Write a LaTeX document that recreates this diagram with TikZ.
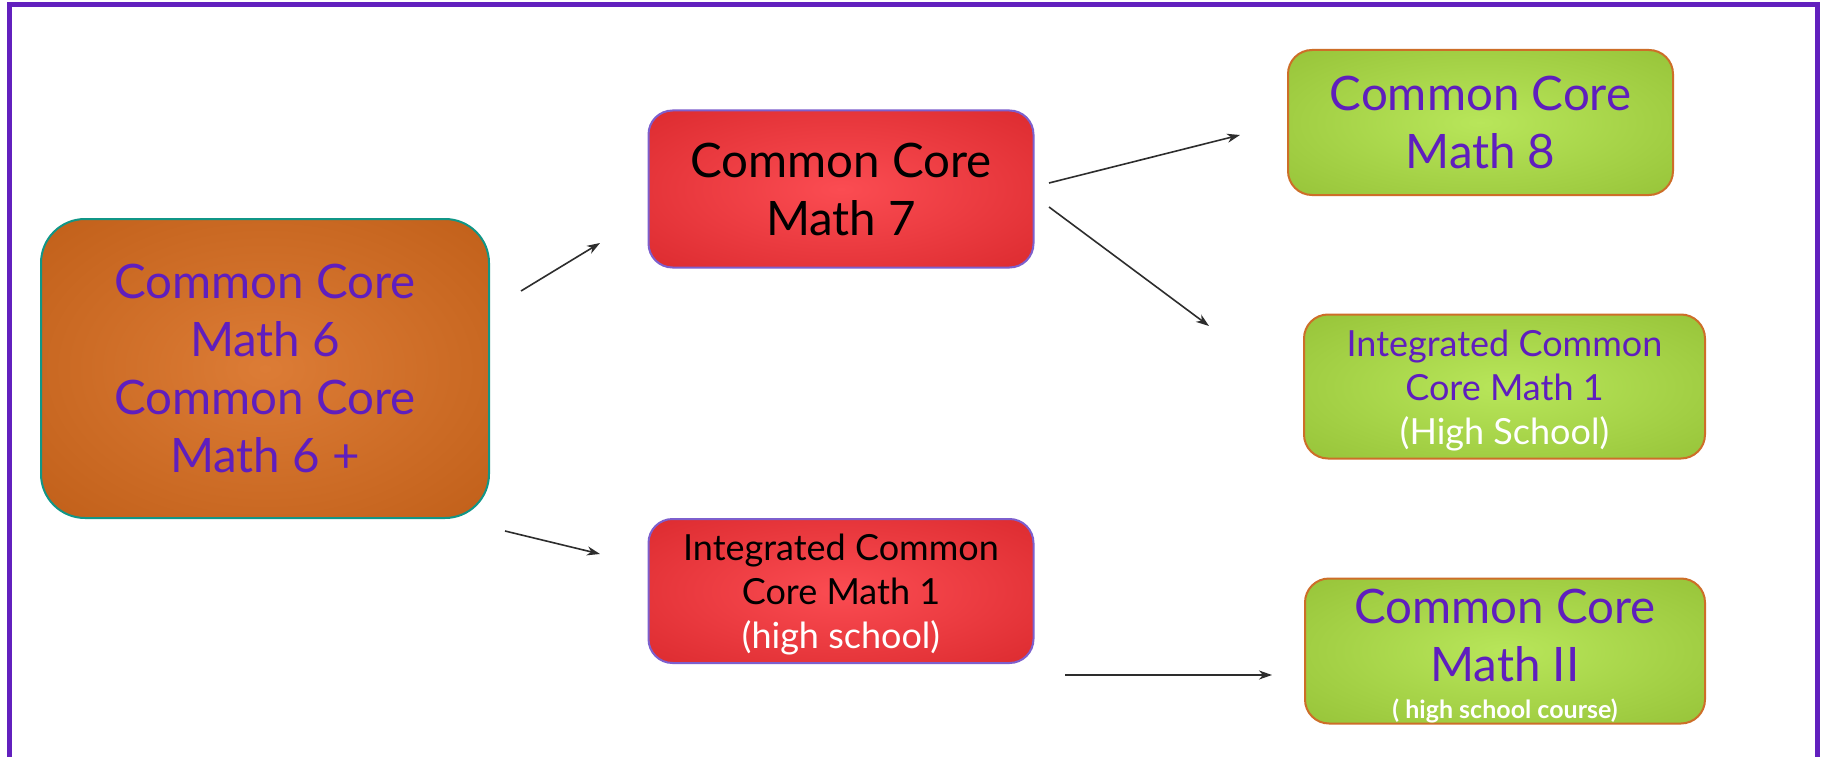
\documentclass[tikz,border=0pt]{standalone}
\usepackage{fontspec}
\setmainfont{Lato}
\usetikzlibrary{arrows.meta}
\definecolor{framec}{RGB}{98,32,190}
\definecolor{ptext}{RGB}{95,30,190}
\definecolor{orIn}{RGB}{220,124,54}
\definecolor{orOut}{RGB}{182,84,14}
\definecolor{orDeep}{RGB}{168,72,4}
\definecolor{rdIn}{RGB}{251,76,82}
\definecolor{rdOut}{RGB}{208,30,34}
\definecolor{rdDeep}{RGB}{196,22,26}
\definecolor{grIn}{RGB}{184,230,90}
\definecolor{grOut}{RGB}{138,182,44}
\definecolor{grDeep}{RGB}{126,170,36}
\definecolor{tealb}{RGB}{16,150,135}
\definecolor{lavb}{RGB}{125,95,205}
\definecolor{orb}{RGB}{205,110,40}
\definecolor{arrowc}{RGB}{45,45,45}
\pgfdeclareradialshading{orShade}{\pgfpoint{0bp}{0bp}}{color(0bp)=(orIn); color(50bp)=(orOut); color(71bp)=(orDeep)}
\pgfdeclareradialshading{rdShade}{\pgfpoint{0bp}{0bp}}{color(0bp)=(rdIn); color(50bp)=(rdOut); color(71bp)=(rdDeep)}
\pgfdeclareradialshading{grShade}{\pgfpoint{0bp}{0bp}}{color(0bp)=(grIn); color(50bp)=(grOut); color(71bp)=(grDeep)}
\tikzset{
  box/.style={rectangle, rounded corners=24pt, line width=2pt, align=center, inner sep=0pt},
  bigtext/.style={font=\fontsize{47.5}{58}\selectfont},
  smalltext/.style={font=\fontsize{36}{44}\selectfont},
  orangebox/.style={box, shading=orShade, draw=tealb},
  redbox/.style={box, shading=rdShade, draw=lavb},
  greenbox/.style={box, shading=grShade, draw=orb},
  conn/.style={-{Stealth[length=13pt,width=9pt,inset=4pt]}, line width=1.6pt, draw=arrowc}
}
\begin{document}
\begin{tikzpicture}[x=1pt,y=-1pt]
\useasboundingbox (0,0) rectangle (1824,757);
\fill[white] (0,0) rectangle (1824,757);
\draw[framec, line width=5pt] (9,5) rectangle (1817,760);

\node[orangebox, rounded corners=44pt, minimum width=448pt, minimum height=299pt, text=ptext, bigtext] (m6) at (265,368.5)
  {Common Core\\Math 6\\Common Core\\Math 6 +};
\node[redbox, minimum width=385pt, minimum height=157pt, text=black, bigtext] (m7) at (841,189)
  {Common Core\\Math 7};
\node[redbox, minimum width=385pt, minimum height=144pt, text=black, smalltext] (i1a) at (841,591)
  {\rule{0pt}{34pt}Integrated Common\\Core Math 1\\\textcolor{white}{(high school)}};
\node[greenbox, minimum width=385pt, minimum height=145pt, text=ptext, bigtext] (m8) at (1480.5,122.5)
  {Common Core\\Math 8};
\node[greenbox, minimum width=401pt, minimum height=144pt, text=ptext, smalltext] (i1b) at (1504.5,386.5)
  {\rule{0pt}{35pt}Integrated Common\\Core Math 1\\\textcolor{white}{(High School)}};
\node[greenbox, minimum width=400pt, minimum height=145pt, text=ptext, bigtext] (m2) at (1505,651)
  {\rule{0pt}{45pt}Common Core\\Math II\\[-21pt]{\fontsize{25}{28}\selectfont\bfseries\color{white}( high school course)}};

\coordinate (a1s) at (521,291);  \coordinate (a1e) at (600,243);
\coordinate (a2s) at (505,531);  \coordinate (a2e) at (600,554);
\coordinate (a3s) at (1049,183); \coordinate (a3e) at (1240,135);
\coordinate (a4s) at (1049,207); \coordinate (a4e) at (1209,326);
\coordinate (a5s) at (1065,675); \coordinate (a5e) at (1272,675);

\draw[conn] (a1s) -- (a1e);
\draw[conn] (a2s) -- (a2e);
\draw[conn] (a3s) -- (a3e);
\draw[conn] (a4s) -- (a4e);
\draw[conn] (a5s) -- (a5e);
\end{tikzpicture}
\end{document}
